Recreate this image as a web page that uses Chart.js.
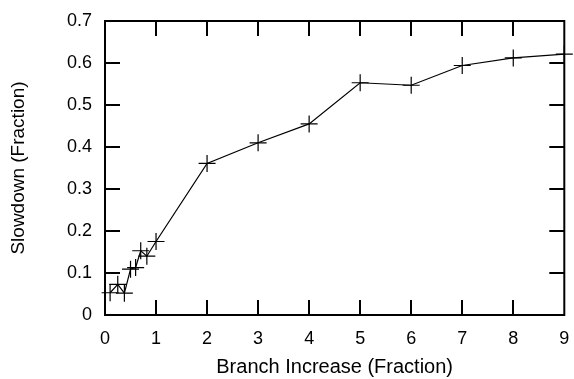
<!DOCTYPE html>
<html>
<head>
  <meta charset="utf-8" />
  <script src="https://cdn.jsdelivr.net/npm/chart.js@4.4.0/dist/chart.umd.min.js"></script>
  <style>
    body { margin: 0; background: #fff; }
    #wrap { width: 574px; height: 379px; }
  </style>
</head>
<body>
<div id="wrap"><canvas id="slowChart" width="574" height="379"></canvas></div>

<script>
/* ---------- Data ---------- */
const branchIncrease = [0.1, 0.25, 0.38, 0.5, 0.6, 0.7, 0.82, 1, 2, 3, 4, 5, 6, 7, 8, 9];
const slowdown = [0.053, 0.073, 0.052, 0.109, 0.113, 0.153, 0.14, 0.175, 0.361, 0.41, 0.455, 0.553, 0.547, 0.594, 0.612, 0.621];
const xTicks = [0, 1, 2, 3, 4, 5, 6, 7, 8, 9];
const yTicks = [0, 0.1, 0.2, 0.3, 0.4, 0.5, 0.6, 0.7];

const FONT = 'Liberation Sans, Arial, sans-serif';

/* ---------- Frame + inward ticks (gnuplot look) ---------- */
const framePlugin = {
  id: 'frame',
  afterDraw(chart) {
    const { ctx, chartArea: a, scales } = chart;
    const TL = 15;
    ctx.save();
    ctx.strokeStyle = '#000';
    ctx.lineWidth = 2;
    ctx.beginPath();
    xTicks.forEach(v => {
      if (v === xTicks[0] || v === xTicks[xTicks.length - 1]) return;
      const px = Math.round(scales.x.getPixelForValue(v));
      ctx.moveTo(px, a.bottom); ctx.lineTo(px, a.bottom - TL);
      ctx.moveTo(px, a.top); ctx.lineTo(px, a.top + TL);
    });
    yTicks.forEach(v => {
      if (v === yTicks[0] || v === yTicks[yTicks.length - 1]) return;
      const py = Math.round(scales.y.getPixelForValue(v));
      ctx.moveTo(a.left, py); ctx.lineTo(a.left + TL, py);
      ctx.moveTo(a.right, py); ctx.lineTo(a.right - TL, py);
    });
    ctx.stroke();
    ctx.strokeRect(a.left, a.top, a.right - a.left, a.bottom - a.top);
    ctx.restore();
  }
};

/* ---------- Chart ---------- */
new Chart(document.getElementById('slowChart'), {
  type: 'scatter',
  data: {
    datasets: [{
      data: branchIncrease.map((x, i) => ({ x, y: slowdown[i] })),
      showLine: true,
      borderColor: '#000',
      borderWidth: 1.2,
      pointStyle: 'cross',
      pointRadius: 8.5,
      pointBorderColor: '#000',
      pointBorderWidth: 1.2,
      clip: false
    }]
  },
  options: {
    responsive: false,
    animation: false,
    devicePixelRatio: 1,
    layout: { padding: { top: 21, right: 8, left: 0, bottom: 0 } },
    plugins: { legend: { display: false }, tooltip: { enabled: false } },
    scales: {
      x: {
        type: 'linear', min: 0, max: 9,
        afterBuildTicks: s => { s.ticks = xTicks.map(v => ({ value: v })); },
        afterFit: s => { s.height = 64; s.paddingLeft = 0; s.paddingRight = 0; },
        grid: { display: false, drawTicks: false },
        border: { display: false },
        ticks: { color: '#000', font: { family: FONT, size: 18 }, padding: 13, maxRotation: 0 },
        title: { display: true, text: 'Branch Increase (Fraction)', color: '#000',
                 font: { family: FONT, size: 20 }, padding: 0 }
      },
      y: {
        type: 'linear', min: 0, max: 0.7,
        afterBuildTicks: s => { s.ticks = yTicks.map(v => ({ value: v })); },
        afterFit: s => { s.width = 105; s.paddingTop = 0; s.paddingBottom = 0; },
        grid: { display: false, drawTicks: false },
        border: { display: false },
        ticks: { color: '#000', font: { family: FONT, size: 18 }, padding: 13,
                 callback: v => String(Math.round(v * 10) / 10) },
        title: { display: true, text: 'Slowdown (Fraction)', color: '#000',
                 font: { family: FONT, size: 19 }, padding: { top: 7, bottom: 0 } }
      }
    }
  },
  plugins: [framePlugin]
});
</script>
</body>
</html>
